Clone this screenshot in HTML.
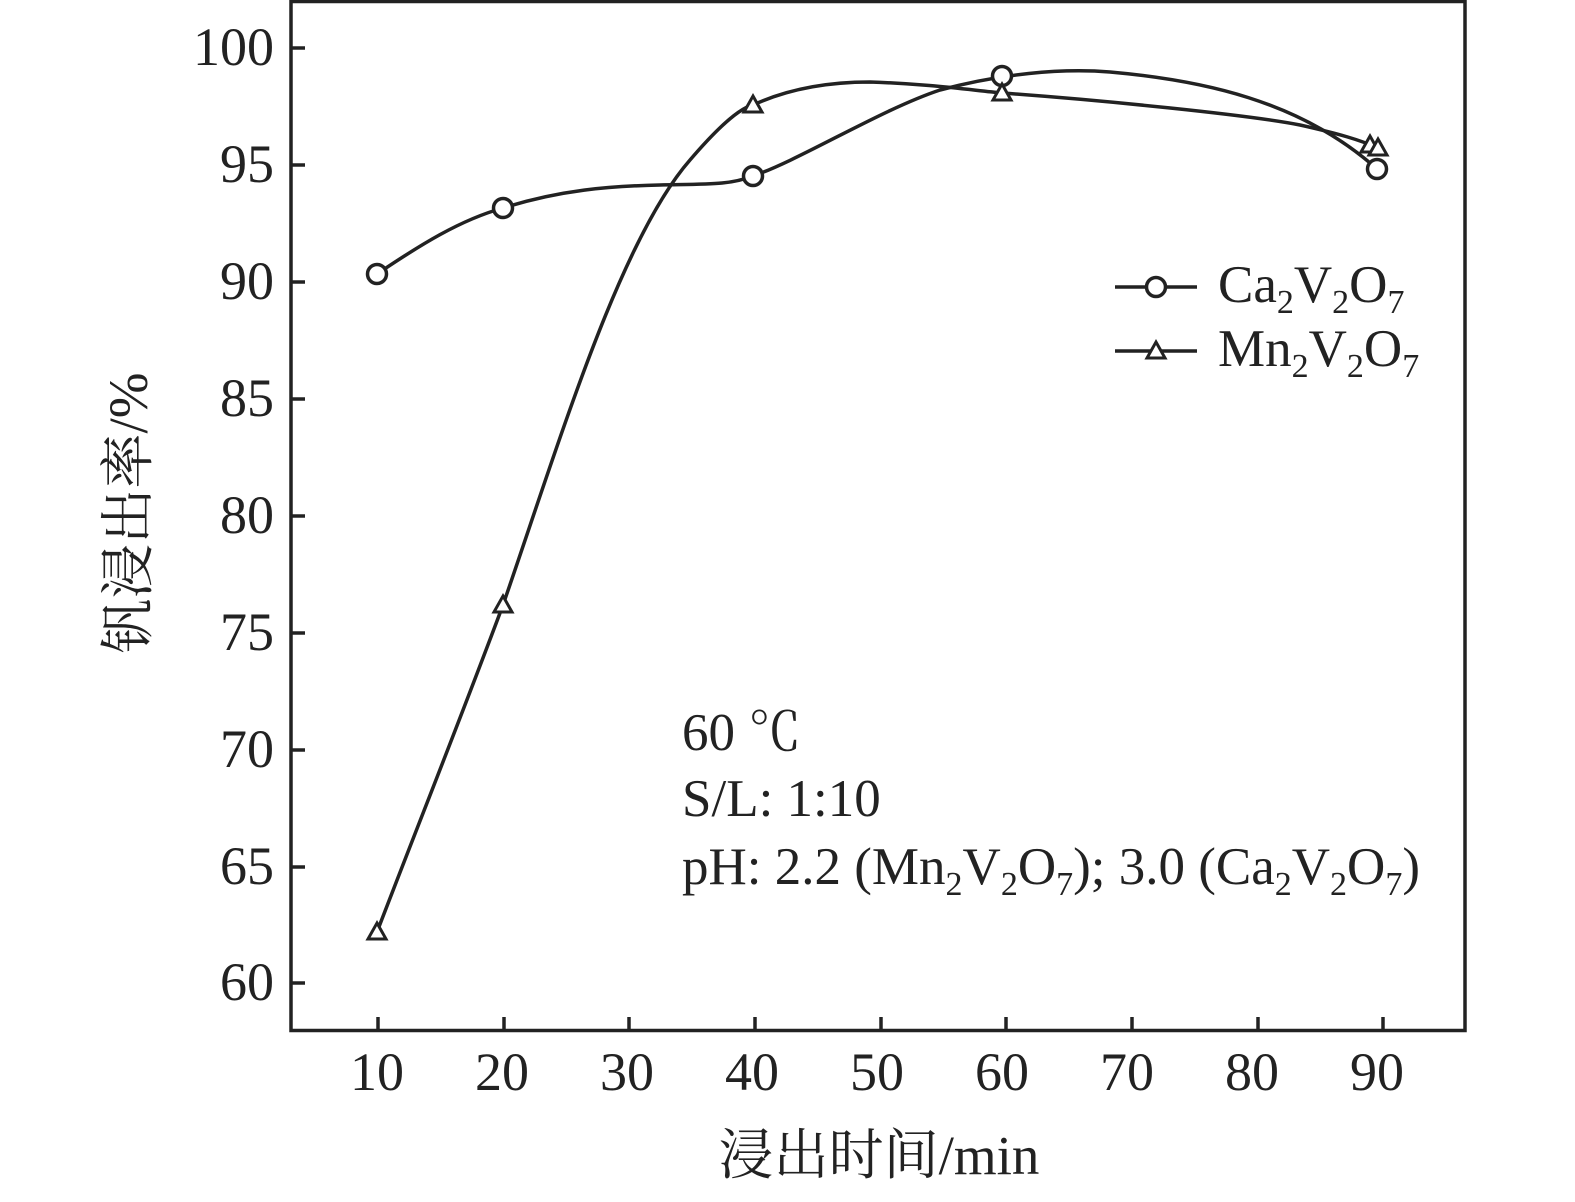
<!DOCTYPE html><html><head><style>body{margin:0;background:#fff}</style></head><body>
<svg width="1575" height="1197" xmlns="http://www.w3.org/2000/svg" font-family="'Liberation Serif','Noto Serif CJK SC',serif" fill="#222">
<rect x="291" y="1.5" width="1174" height="1029" fill="none" stroke="#222" stroke-width="3.5"/>
<g stroke="#222" stroke-width="3.5">
<line x1="291" y1="48" x2="305" y2="48"/><line x1="291" y1="165" x2="305" y2="165"/><line x1="291" y1="282" x2="305" y2="282"/><line x1="291" y1="399" x2="305" y2="399"/><line x1="291" y1="516" x2="305" y2="516"/><line x1="291" y1="633" x2="305" y2="633"/><line x1="291" y1="750" x2="305" y2="750"/><line x1="291" y1="867" x2="305" y2="867"/><line x1="291" y1="983" x2="305" y2="983"/>
<line x1="378" y1="1031" x2="378" y2="1017"/><line x1="504" y1="1031" x2="504" y2="1017"/><line x1="629" y1="1031" x2="629" y2="1017"/><line x1="755" y1="1031" x2="755" y2="1017"/><line x1="881" y1="1031" x2="881" y2="1017"/><line x1="1006" y1="1031" x2="1006" y2="1017"/><line x1="1132" y1="1031" x2="1132" y2="1017"/><line x1="1258" y1="1031" x2="1258" y2="1017"/><line x1="1383" y1="1031" x2="1383" y2="1017"/>
</g>
<g font-size="54" text-anchor="end">
<text x="274" y="65">100</text><text x="274" y="182">95</text><text x="274" y="299">90</text><text x="274" y="416">85</text><text x="274" y="533">80</text><text x="274" y="650">75</text><text x="274" y="767">70</text><text x="274" y="884">65</text><text x="274" y="1000">60</text>
</g>
<g font-size="54" text-anchor="middle">
<text x="377" y="1090">10</text><text x="502" y="1090">20</text><text x="627" y="1090">30</text><text x="752" y="1090">40</text><text x="877" y="1090">50</text><text x="1002" y="1090">60</text><text x="1127" y="1090">70</text><text x="1252" y="1090">80</text><text x="1377" y="1090">90</text>
</g>
<text x="879" y="1174" font-size="55" text-anchor="middle">浸出时间/min</text>
<text transform="translate(147,513) rotate(-90)" font-size="55" text-anchor="middle">钒浸出率/%</text>
<g fill="none" stroke="#222" stroke-width="3.5">
<path d="M377,274 C420,245 460,220 503,208 C560,190 610,186 660,185 C710,184 730,185 753,176 C800,160 880,110 940,90 C1000,74 1060,68 1110,72 C1200,80 1300,100 1377,169"/>
<path d="M377,932 C420,820 460,720 503,605 C560,440 620,240 690,160 C720,125 740,108 753,105 C790,88 830,82 870,82 C930,84 970,90 1002,93 C1100,100 1250,115 1300,125 C1340,134 1360,140 1378,148"/>
<circle cx="377" cy="274" r="9.5" fill="#fff"/><circle cx="503" cy="208" r="9.5" fill="#fff"/><circle cx="753" cy="176" r="9.5" fill="#fff"/><circle cx="1002" cy="76" r="9.5" fill="#fff"/><circle cx="1377" cy="169" r="9.5" fill="#fff"/>
<g fill="#fff" stroke-width="3">
<path d="M377,923 L386,939 L368,939 Z"/><path d="M503,596 L512,612 L494,612 Z"/><path d="M753,96 L762,112 L744,112 Z"/><path d="M1002,84 L1011,100 L993,100 Z"/><path d="M1370,136 L1379,152 L1361,152 Z"/><path d="M1378,139 L1387,155 L1369,155 Z"/>
</g>
<line x1="1115" y1="287" x2="1197" y2="287"/><circle cx="1156" cy="287" r="9.5" fill="#fff"/>
<line x1="1115" y1="351" x2="1197" y2="351"/><path d="M1156,342 L1165,358 L1147,358 Z" fill="#fff" stroke-width="3"/>
</g>
<g font-size="53">
<text x="1218" y="302">Ca<tspan font-size="34" dy="11">2</tspan><tspan dy="-11">V</tspan><tspan font-size="34" dy="11">2</tspan><tspan dy="-11">O</tspan><tspan font-size="34" dy="11">7</tspan></text>
<text x="1218" y="366">Mn<tspan font-size="34" dy="11">2</tspan><tspan dy="-11">V</tspan><tspan font-size="34" dy="11">2</tspan><tspan dy="-11">O</tspan><tspan font-size="34" dy="11">7</tspan></text>
<text x="682" y="750">60 ℃</text>
<text x="682" y="816">S/L: 1:10</text>
<text x="682" y="884">pH: 2.2 (Mn<tspan font-size="34" dy="11">2</tspan><tspan dy="-11">V</tspan><tspan font-size="34" dy="11">2</tspan><tspan dy="-11">O</tspan><tspan font-size="34" dy="11">7</tspan><tspan dy="-11">); 3.0 (Ca</tspan><tspan font-size="34" dy="11">2</tspan><tspan dy="-11">V</tspan><tspan font-size="34" dy="11">2</tspan><tspan dy="-11">O</tspan><tspan font-size="34" dy="11">7</tspan><tspan dy="-11">)</tspan></text>
</g>
</svg>
</body></html>
